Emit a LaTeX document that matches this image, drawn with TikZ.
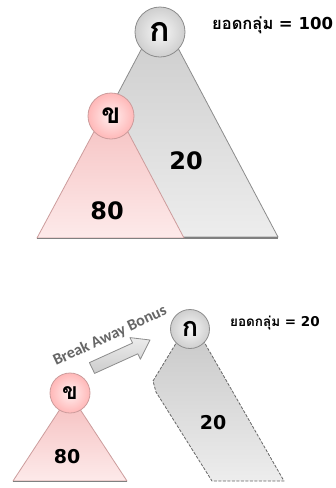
\documentclass[tikz,border=0pt]{standalone}
\usepackage{fontspec}
\newfontfamily\thaifont[Script=Thai]{Loma}
\newfontfamily\numfont{DejaVu Sans}
\newfontfamily\labfont{Carlito}
\definecolor{grayedge}{HTML}{8C8C8C}
\definecolor{graytop}{HTML}{CBCBCB}
\definecolor{graybot}{HTML}{EDEDED}
\definecolor{pinktop}{HTML}{F5BDBD}
\definecolor{pinkbot}{HTML}{FDEAEA}
\definecolor{pinkedge}{HTML}{CC9C9C}
\begin{document}
\begin{tikzpicture}[x=1pt,y=-1pt,
  graytri/.style={draw=grayedge, line width=0.8pt, top color=graytop, bottom color=graybot, line join=round},
  pinktri/.style={draw=pinkedge, line width=0.8pt, top color=pinktop, bottom color=pinkbot, line join=round},
  shadowline/.style={draw=black!50, line width=1.6pt},
  gcirc/.style={circle, draw=grayedge, line width=0.8pt, inner color=gray!6, outer color=gray!38, inner sep=0pt},
  pcirc/.style={circle, draw=pinkedge, line width=0.8pt, inner color=red!6, outer color=red!28, inner sep=0pt},
  bignum/.style={font=\numfont\bfseries\fontsize{24}{26}\selectfont, inner sep=0pt},
  smallnum/.style={font=\numfont\bfseries\fontsize{19}{21}\selectfont, inner sep=0pt},
  totlabel/.style={anchor=west, inner sep=0pt}
]
\useasboundingbox (0,0) rectangle (336,488);
\fill[white] (0,0) rectangle (336,488);

% ---------- top diagram ----------
\path[graytri] (160,14) -- (278,237) -- (42,237) -- cycle;
\draw[shadowline] (183,238) -- (278,238);
\node[gcirc, minimum size=50pt] (ka1) at (160,32) {\thaifont\bfseries\fontsize{34}{36}\selectfont ก};
\path[pinktri] (111,100) -- (184,238) -- (37,238) -- cycle;
\draw[shadowline] (37,238.5) -- (184,238.5);
\node[pcirc, minimum size=46pt] (kho1) at (111,116) {\thaifont\bfseries\fontsize{28}{30}\selectfont ข};
\node[bignum] (n20a) at (186,161) {20};
\node[bignum] (n80a) at (107,211) {80};
\node[totlabel] (tot1) at (212,25) {\thaifont\bfseries\fontsize{16.5}{18}\selectfont ยอดกลุ่ม {\numfont\bfseries = 100}};

% ---------- bottom diagram ----------
\path[graytri, dashed, dash pattern=on 3pt off 1.5pt, draw=black!60]
  (178,340) -- (153,381) -- (156,392) -- (212,481) -- (284,481) -- (203,340) -- cycle;
\node[gcirc, minimum size=39pt] (ka2) at (190,329) {\thaifont\bfseries\fontsize{27}{29}\selectfont ก};
\path[pinktri] (70,394) -- (127,481) -- (13,481) -- cycle;
\draw[shadowline] (13,481.5) -- (127,481.5);
\node[pcirc, minimum size=40pt] (kho2) at (70,393) {\thaifont\bfseries\fontsize{23}{25}\selectfont ข};
\node[smallnum] (n20b) at (213,423) {20};
\node[smallnum] (n80b) at (67,457) {80};
\node[totlabel] (tot2) at (230,323) {\thaifont\bfseries\fontsize{13.5}{15}\selectfont ยอดกลุ่ม {\numfont\bfseries = 20}};

% block arrow
\path[draw=grayedge, line width=0.8pt, top color=gray!15, bottom color=gray!40, line join=round]
  (89.4,362.6) -- (132.6,343.0) -- (130.0,337.6) -- (150,340) -- (140.4,359.2) -- (137.8,353.8) -- (94.6,373.4) -- cycle;
\node[rotate=25, text=black!60, inner sep=0pt, font=\labfont\bfseries\fontsize{16}{18}\selectfont] (bab) at (110,336) {Break Away Bonus};
\end{tikzpicture}
\end{document}
